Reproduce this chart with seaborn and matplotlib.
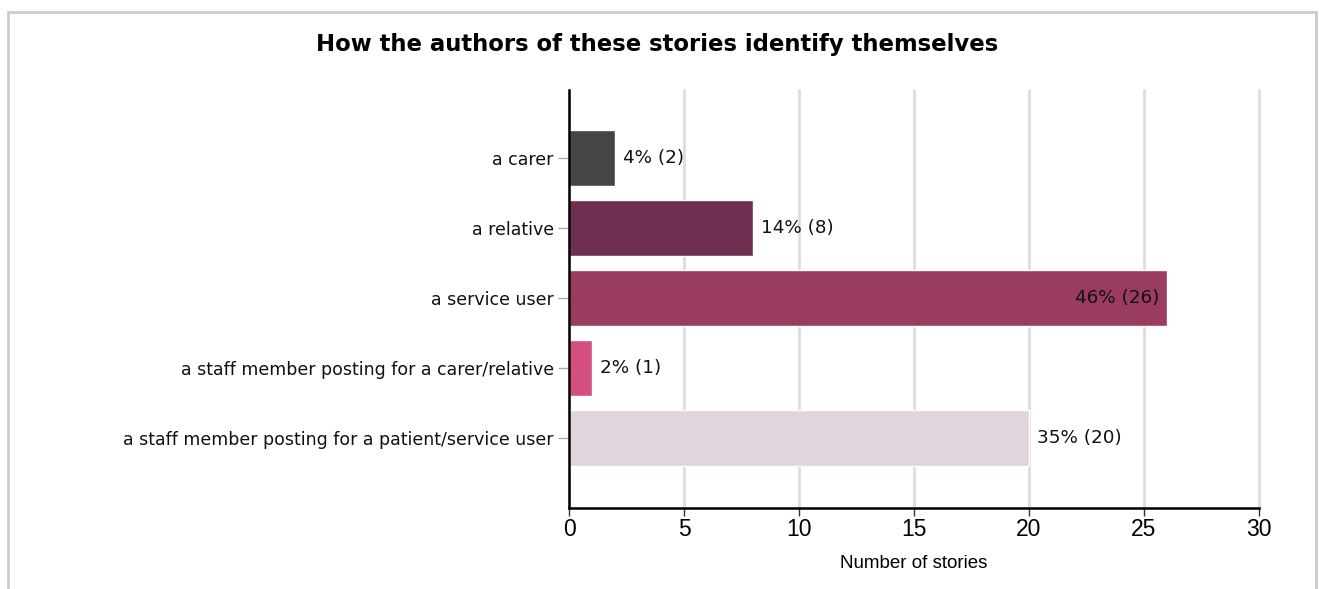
import matplotlib
matplotlib.use('Agg')
import matplotlib.pyplot as plt
import seaborn as sns
import pandas as pd
from matplotlib.patches import Rectangle

# Chart data
categories = ['a carer', 'a relative', 'a service user',
              'a staff member posting for a carer/relative',
              'a staff member posting for a patient/service user']
counts = [2, 8, 26, 1, 20]
percents = [4, 14, 46, 2, 35]
bar_colours = ['#454545', '#6e2f51', '#9a3b61', '#d24f80', '#e0d5dc']

df = pd.DataFrame({'category': categories, 'count': counts})

sns.set_style('white')
plt.rcParams['font.family'] = ['DejaVu Sans']
plt.rcParams['text.color'] = 'black'

fig = plt.figure(figsize=(13.19, 5.89), dpi=100)
ax = fig.add_axes([0.4314, 0.1375, 0.5231, 0.7097])

sns.barplot(data=df, y='category', x='count', hue='category', palette=bar_colours,
            orient='h', width=0.8, legend=False, ax=ax, saturation=1)

ax.set_xlim(0, 30)
ax.set_ylim(5.0, -0.97)
ax.set_xticks(range(0, 31, 5))
ax.grid(axis='x', color='#dddddd', linewidth=2, clip_on=False)
ax.set_axisbelow(True)
for side in ['top', 'right']:
    ax.spines[side].set_visible(False)
ax.spines['left'].set_linewidth(1.8)
ax.spines['bottom'].set_linewidth(1.8)
ax.spines['left'].set_color('black')
ax.spines['bottom'].set_color('black')

ax.tick_params(axis='x', bottom=True, length=6, width=1, color='#333333',
               labelsize=16.5, labelcolor='black', pad=1)
ax.tick_params(axis='y', left=True, length=8, width=1, color='#aaaaaa',
               labelsize=12.5, labelcolor='#111111', pad=3)
for lab in ax.get_xticklabels():
    lab.set_fontfamily('Liberation Sans')
ax.set_ylabel('')
ax.set_xlabel('Number of stories', fontsize=13.5, fontfamily='Liberation Sans',
              color='black', labelpad=10)

# value labels
for i, (c, p) in enumerate(zip(counts, percents)):
    text = f'{p}% ({c})'
    if c >= 25:
        ax.text(c - 0.35, i, text, ha='right', va='center', fontsize=13.2, color='#111111')
    else:
        ax.text(c + 0.35, i, text, ha='left', va='center', fontsize=13.2, color='#111111')

fig.text(0.4985, 0.925, 'How the authors of these stories identify themselves',
         ha='center', va='center', fontsize=16.4, fontweight='bold', color='black')

# outer frame
fig.patches.append(Rectangle((8 / 1319, -0.05), (1316 - 8) / 1319, (589 - 12) / 589 + 0.05,
                             transform=fig.transFigure, fill=False,
                             edgecolor='#cccccc', linewidth=2))

fig.savefig('out.png', dpi=100)
